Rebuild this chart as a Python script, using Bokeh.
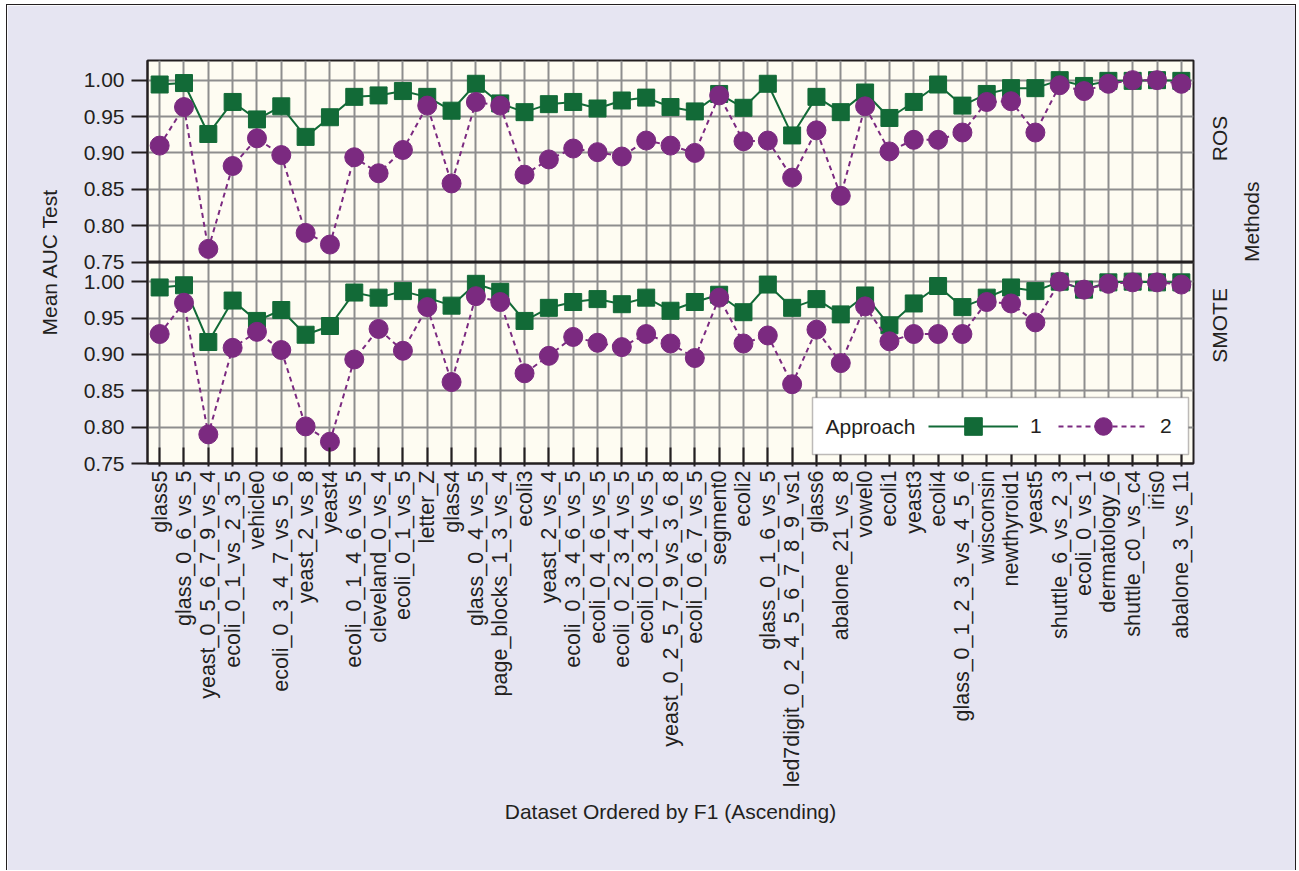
import math
from bokeh.plotting import figure
from bokeh.models import (ColumnDataSource, Range1d, FixedTicker, CustomJSTickFormatter,
                          LinearAxis, Span, Legend, LegendItem, Label, BoxAnnotation)
from bokeh.embed import file_html
from bokeh.resources import INLINE

# ---------------- data ----------------
datasets = [
    "glass5", "glass_0_6_vs_5", "yeast_0_5_6_7_9_vs_4", "ecoli_0_1_vs_2_3_5", "vehicle0",
    "ecoli_0_3_4_7_vs_5_6", "yeast_2_vs_8", "yeast4", "ecoli_0_1_4_6_vs_5", "cleveland_0_vs_4",
    "ecoli_0_1_vs_5", "letter_Z", "glass4", "glass_0_4_vs_5", "page_blocks_1_3_vs_4", "ecoli3",
    "yeast_2_vs_4", "ecoli_0_3_4_6_vs_5", "ecoli_0_4_6_vs_5", "ecoli_0_2_3_4_vs_5",
    "ecoli_0_3_4_vs_5", "yeast_0_2_5_7_9_vs_3_6_8", "ecoli_0_6_7_vs_5", "segment0", "ecoli2",
    "glass_0_1_6_vs_5", "led7digit_0_2_4_5_6_7_8_9_vs1", "glass6", "abalone_21_vs_8", "vowel0",
    "ecoli1", "yeast3", "ecoli4", "glass_0_1_2_3_vs_4_5_6", "wisconsin", "newthyroid1", "yeast5",
    "shuttle_6_vs_2_3", "ecoli_0_vs_1", "dermatology_6", "shuttle_c0_vs_c4", "iris0",
    "abalone_3_vs_11",
]

ros_approach1 = [
    0.994, 0.996, 0.926, 0.970, 0.946, 0.964, 0.922, 0.949, 0.977, 0.979,
    0.985, 0.977, 0.958, 0.995, 0.968, 0.956, 0.967, 0.970, 0.961, 0.972,
    0.976, 0.963, 0.957, 0.981, 0.962, 0.995, 0.924, 0.977, 0.956, 0.983,
    0.948, 0.970, 0.994, 0.965, 0.981, 0.989, 0.989, 1.000, 0.992, 0.999,
    0.999, 1.000, 0.999,
]
ros_approach2 = [
    0.910, 0.963, 0.768, 0.882, 0.920, 0.897, 0.790, 0.774, 0.894, 0.872,
    0.904, 0.965, 0.858, 0.970, 0.965, 0.870, 0.891, 0.906, 0.901, 0.895,
    0.917, 0.910, 0.900, 0.979, 0.916, 0.917, 0.866, 0.931, 0.841, 0.964,
    0.902, 0.918, 0.918, 0.928, 0.970, 0.971, 0.928, 0.993, 0.985, 0.995,
    1.000, 1.000, 0.995,
]
smote_approach1 = [
    0.992, 0.995, 0.917, 0.974, 0.946, 0.961, 0.927, 0.939, 0.985, 0.978,
    0.987, 0.978, 0.967, 0.997, 0.986, 0.946, 0.964, 0.972, 0.976, 0.969,
    0.978, 0.960, 0.972, 0.982, 0.958, 0.996, 0.964, 0.976, 0.955, 0.981,
    0.940, 0.970, 0.994, 0.965, 0.978, 0.992, 0.987, 1.000, 0.989, 0.999,
    1.000, 0.999, 0.999,
]
smote_approach2 = [
    0.928, 0.971, 0.790, 0.909, 0.931, 0.906, 0.801, 0.780, 0.893, 0.935,
    0.905, 0.965, 0.862, 0.980, 0.972, 0.874, 0.898, 0.924, 0.916, 0.910,
    0.928, 0.915, 0.895, 0.978, 0.915, 0.926, 0.859, 0.934, 0.888, 0.966,
    0.918, 0.928, 0.928, 0.928, 0.972, 0.970, 0.944, 1.000, 0.989, 0.997,
    0.999, 0.999, 0.996,
]
y_ticks = [0.75, 0.80, 0.85, 0.90, 0.95, 1.00]
methods = ["ROS", "SMOTE"]
approaches = ["1", "2"]

# ---------------- style ----------------
GREEN = "#126a37"
PURPLE = "#7b2a80"
INK = "#231f20"
GRID = "#8e8e8e"
PANEL_BG = "#fefcf2"
PAGE_BG = "#e6e5f2"
FONT = "Liberation Sans"

Y0 = 0.75
PANEL = 0.277  # vertical span of one facet panel

src = ColumnDataSource(dict(dataset=datasets, ros_1=ros_approach1, ros_2=ros_approach2,
                            smote_1=smote_approach1, smote_2=smote_approach2))

W, H = 1290, 866
ML, MR, MT, MB = 140, 104, 55, 408
CANVAS_X, CANVAS_Y = 7, 5

p = figure(x_range=datasets, y_range=Range1d(Y0, Y0 + 2 * PANEL), width=W, height=H,
           output_backend="svg", toolbar_location=None,
           min_border_left=ML, min_border_right=MR, min_border_top=MT, min_border_bottom=MB)
p.extra_y_ranges = {"ros": Range1d(Y0 - PANEL, Y0 + PANEL)}
p.background_fill_color = PANEL_BG
p.border_fill_color = PAGE_BG
p.outline_line_color = INK
p.outline_line_width = 2
p.styles = {"border-left": "1px solid " + INK, "border-top": "1px solid " + INK,
            "border-right": "1px solid " + INK, "margin-left": "6px", "margin-top": "4px"}

# left axis: ticks for both panels
tick_pos = y_ticks + [t + PANEL for t in y_ticks]
yt = FixedTicker(ticks=tick_pos, minor_ticks=[])
yax = p.yaxis[0]
yax.ticker = yt
yax.formatter = CustomJSTickFormatter(
    code="const v = tick > %f ? tick - %f : tick; return v.toFixed(2);" % (Y0 + PANEL - 0.01, PANEL))
yax.axis_label = "Mean AUC Test"
yax.axis_label_text_font = FONT
yax.axis_label_text_font_size = "21px"
yax.axis_label_text_font_style = "normal"
yax.axis_label_text_color = INK
yax.axis_label_standoff = 20
yax.major_label_text_font = FONT
yax.major_label_text_font_size = "21px"
yax.major_label_text_color = INK
yax.major_label_standoff = 7
yax.major_tick_out = 16
yax.major_tick_in = 0
yax.major_tick_line_color = INK
yax.major_tick_line_width = 2
yax.minor_tick_line_color = None
yax.axis_line_color = INK
yax.axis_line_width = 2

# bottom axis
xax = p.xaxis[0]
xax.major_label_orientation = math.pi / 2
xax.major_label_text_font = FONT
xax.major_label_text_font_size = "21.5px"
xax.major_label_text_color = INK
xax.major_label_standoff = 4
xax.major_tick_in = 16
xax.major_tick_out = 3
xax.major_tick_line_color = INK
xax.major_tick_line_width = 2
xax.axis_line_color = INK
xax.axis_line_width = 2
xax.axis_label = "Dataset Ordered by F1 (Ascending)"
xax.axis_label_text_font = FONT
xax.axis_label_text_font_size = "21px"
xax.axis_label_text_font_style = "normal"
xax.axis_label_text_color = INK
xax.axis_label_standoff = 10

# grids
p.ygrid.ticker = yt
p.ygrid.grid_line_color = GRID
p.ygrid.grid_line_width = 2
p.xgrid.grid_line_color = GRID
p.xgrid.grid_line_width = 2

# right strip labels
rax = LinearAxis(ticker=FixedTicker(ticks=[Y0 + PANEL / 2, Y0 + 1.5 * PANEL], minor_ticks=[]),
                 formatter=CustomJSTickFormatter(
                     code="return tick > %f ? '%s' : '%s';" % (Y0 + PANEL, methods[0], methods[1])),
                 major_label_orientation=math.pi / 2,
                 axis_label="Methods")
try:
    rax.axis_label_orientation = math.pi / 2
except Exception:
    pass
rax.axis_line_color = None
rax.major_tick_line_color = None
rax.minor_tick_line_color = None
rax.major_label_text_font = FONT
rax.major_label_text_font_size = "21px"
rax.major_label_text_color = INK
rax.major_label_standoff = 20
rax.axis_label_text_font = FONT
rax.axis_label_text_font_size = "21px"
rax.axis_label_text_font_style = "normal"
rax.axis_label_text_color = INK
rax.axis_label_standoff = 6
p.add_layout(rax, "right")

# panel divider
p.add_layout(Span(location=Y0 + PANEL, dimension="width", line_color=INK, line_width=3))

# glyphs: ROS panel (top)
p.line("dataset", "ros_1", source=src, y_range_name="ros", line_color=GREEN, line_width=2)
p.scatter("dataset", "ros_1", source=src, y_range_name="ros", marker="square", size=17,
          fill_color=GREEN, line_color=GREEN)
p.line("dataset", "ros_2", source=src, y_range_name="ros", line_color=PURPLE, line_width=2,
       line_dash="5 4")
p.scatter("dataset", "ros_2", source=src, y_range_name="ros", marker="circle", size=19,
          fill_color=PURPLE, line_color=PURPLE)

# glyphs: SMOTE panel (bottom)
l1 = p.line("dataset", "smote_1", source=src, line_color=GREEN, line_width=2)
s1 = p.scatter("dataset", "smote_1", source=src, marker="square", size=17,
               fill_color=GREEN, line_color=GREEN)
l2 = p.line("dataset", "smote_2", source=src, line_color=PURPLE, line_width=2, line_dash="5 4")
s2 = p.scatter("dataset", "smote_2", source=src, marker="circle", size=19,
               fill_color=PURPLE, line_color=PURPLE)

# legend box (page pixel positions converted to plot coordinates)
FL = CANVAS_X + ML
FB = CANVAS_Y + H - MB
XPX = (W - ML - MR) / len(datasets)
YPX = (H - MT - MB) / (2 * PANEL)


def xd(px):
    return (px - FL) / XPX


def yd(py):
    return Y0 + (FB - py) / YPX


p.add_layout(BoxAnnotation(left=xd(812), right=xd(1188), bottom=yd(454), top=yd(397),
                           fill_color="white", fill_alpha=1.0, line_color=INK, line_width=1.5))
p.add_layout(Label(x=xd(825), y=yd(426), text="Approach", text_baseline="middle",
                   text_font=FONT, text_font_size="21px", text_color=INK))
legend = Legend(items=[LegendItem(label=approaches[0], renderers=[l1, s1]),
                       LegendItem(label=approaches[1], renderers=[l2, s2])],
                orientation="horizontal", location=(928 - FL, FB - 448), margin=0, padding=0,
                glyph_width=90, glyph_height=44, label_standoff=12, spacing=8,
                background_fill_alpha=0, border_line_alpha=0,
                label_text_font=FONT, label_text_font_size="21px", label_text_color=INK)
p.add_layout(legend)

open("out.html", "w").write(file_html(p, INLINE))
